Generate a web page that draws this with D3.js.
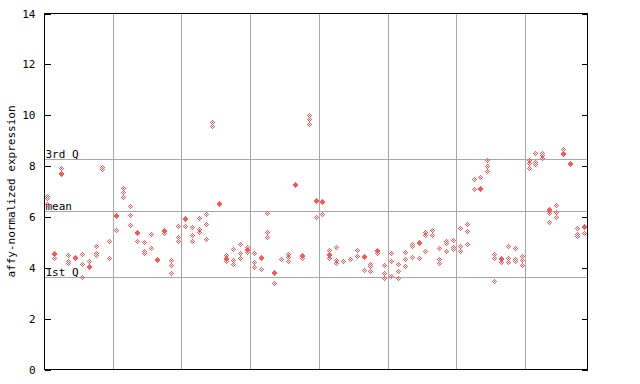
<!DOCTYPE html>
<html><head><meta charset="utf-8">
<script src="https://cdn.jsdelivr.net/npm/d3@7"></script>
<style>body{margin:0;background:#fff}svg{display:block}</style>
</head><body>
<svg id="c" width="640" height="384"></svg>
<script>
// expression values per sample (replicates), eight sample groups
const group1 = [[6.82,6.74,6.47],[4.58,4.54,4.38],[7.92,7.69,7.65],[4.50,4.26,4.18],[4.42,4.38],[4.54,4.14,3.63],[4.26,4.07,4.03],[4.85,4.57,4.49],[7.96,7.88],[5.05,4.38]];
const group2 = [[6.04,6.00,5.48],[7.13,6.96,6.78],[6.41,6.07,5.68],[5.37,5.33,5.05],[5.01,4.64,4.56],[5.32,4.77],[4.34,4.30],[5.46,5.42,5.34],[4.30,4.10,3.79],[5.64,5.18,5.02]];
const group3 = [[5.92,5.88,5.64],[5.60,5.26,5.05],[5.95,5.49,5.39],[6.11,5.72,5.13],[9.73,9.54],[6.51,6.47],[4.50,4.36,4.32,4.23],[4.73,4.30,4.14],[4.93,4.57,4.38],[4.81,4.72,4.68,4.60]];
const group4 = [[4.57,4.22,4.02],[4.42,4.38,3.94],[6.15,5.40,5.20],[3.83,3.79,3.39],[4.34],[4.54,4.42,4.26],[7.26,7.22],[4.47,4.43,4.35],[9.99,9.85,9.65],[6.63,6.59,5.99]];
const group5 = [[6.59,6.55,6.11],[4.69,4.51,4.47,4.38],[4.81,4.30,4.18],[4.26],[4.34],[4.69,4.46],[4.46,4.42,3.91],[4.14,4.05,3.87],[4.67,4.63,4.57],[4.10,3.79,3.59]];
const group6 = [[4.57,4.26,3.67],[4.14,3.87,3.59],[4.61,4.34,4.06],[4.93,4.85,4.42],[4.99,4.95,4.38],[5.40,5.28,4.65],[5.48,5.28],[4.77,4.34,4.18],[5.05,4.97,4.65],[5.09,4.81,4.73]];
const group7 = [[5.56,4.85,4.65],[5.72,5.44,4.93],[7.49,7.06],[7.57,7.13,7.06],[8.21,8.00,7.80],[4.54,4.38,3.47],[4.37,4.33,4.22],[4.85,4.38,4.22],[4.77,4.34,4.26],[4.46,4.30,4.10]];
const group8 = [[8.20,8.12,7.91],[8.48,8.16,8.08],[8.51,8.43,8.30],[6.28,6.24,6.15,5.80],[6.46,6.19,5.99],[8.64,8.49,8.45],[8.11,8.07],[5.56,5.29,5.25],[5.62,5.58,5.36]];
const yTicks = [0,2,4,6,8,10,12,14];
const refLabels = ["3rd Q","mean","1st Q"];
const refValues = [8.24,6.23,3.63];
const yLabel = "affy-normalized expression";

const groups = [group1,group2,group3,group4,group5,group6,group7,group8];
const samples = groups.flat();
const nSamples = samples.length;

const svg = d3.select("#c");
const x = d3.scaleLinear().domain([0, nSamples]).range([44.5, 587.5]);
const y = d3.scaleLinear().domain([0, 14]).range([369.5, 13.5]);
const px = v => Math.floor(v) + 0.5;
const red = "#ff5555", grid = "#a8a8a8";
const font = "'DejaVu Sans Mono', monospace";

// checker pattern
const defs = svg.append("defs");
const pat = defs.append("pattern").attr("id","chk").attr("patternUnits","userSpaceOnUse")
  .attr("width",2).attr("height",2);
pat.append("rect").attr("x",0).attr("y",0).attr("width",1).attr("height",1).attr("fill",red).attr("shape-rendering","crispEdges");
pat.append("rect").attr("x",1).attr("y",1).attr("width",1).attr("height",1).attr("fill",red).attr("shape-rendering","crispEdges");

// group boundaries
let b = 0; const bounds = [];
groups.slice(0,-1).forEach(g => { b += g.length; bounds.push(b); });
svg.append("g").selectAll("line").data(bounds).join("line")
  .attr("x1", d => px(x(d))).attr("x2", d => px(x(d)))
  .attr("y1", y(14)).attr("y2", y(0))
  .attr("stroke", grid).attr("stroke-width",1).attr("shape-rendering","crispEdges");

// reference lines
svg.append("g").selectAll("line").data(refValues).join("line")
  .attr("x1", x(0)).attr("x2", x(nSamples))
  .attr("y1", d => px(y(d))).attr("y2", d => px(y(d)))
  .attr("stroke", grid).attr("stroke-width",1).attr("shape-rendering","crispEdges");
svg.append("g").selectAll("text").data(refValues).join("text")
  .attr("x", x(0)+1).attr("y", d => Math.floor(y(d)) - 1)
  .attr("font-family", font).attr("font-size", 11).attr("fill","#000")
  .text((d,i) => refLabels[i]);

// points
const pts = [];
samples.forEach((vals,i) => vals.forEach(v => pts.push({i, v})));
svg.append("g").selectAll("path").data(pts).join("path")
  .attr("transform", d => `translate(${Math.floor(x(d.i+0.5))},${Math.floor(y(d.v))})`)
  .attr("d", "M0.5,-3L4,0.5L0.5,4L-3,0.5Z")
  .attr("fill", "url(#chk)").attr("shape-rendering","crispEdges");

// frame
svg.append("rect").attr("x", x(0)).attr("y", y(14)).attr("width", x(nSamples)-x(0)).attr("height", y(0)-y(14))
  .attr("fill","none").attr("stroke","#000").attr("stroke-width",1).attr("shape-rendering","crispEdges");

// left axis
const left = d3.axisLeft(y).tickValues(yTicks).tickSize(-6).tickPadding(9).tickFormat(d3.format("d"));
svg.append("g").attr("transform", `translate(${x(0)},0)`).call(left)
  .call(g => g.select(".domain").remove())
  .call(g => g.selectAll("line").attr("stroke","#000").attr("shape-rendering","crispEdges"))
  .call(g => g.selectAll("text").attr("font-family", font).attr("font-size", 11).attr("fill","#000"));
// right axis ticks
const right = d3.axisRight(y).tickValues(yTicks).tickSize(-6).tickFormat("");
svg.append("g").attr("transform", `translate(${x(nSamples)},0)`).call(right)
  .call(g => g.select(".domain").remove())
  .call(g => g.selectAll("line").attr("stroke","#000").attr("shape-rendering","crispEdges"));

// y label
svg.append("text").attr("transform", `translate(15,${(y(0)+y(14))/2}) rotate(-90)`)
  .attr("text-anchor","middle").attr("font-family", font).attr("font-size", 11).attr("fill","#000")
  .text(yLabel);
</script>
</body></html>
